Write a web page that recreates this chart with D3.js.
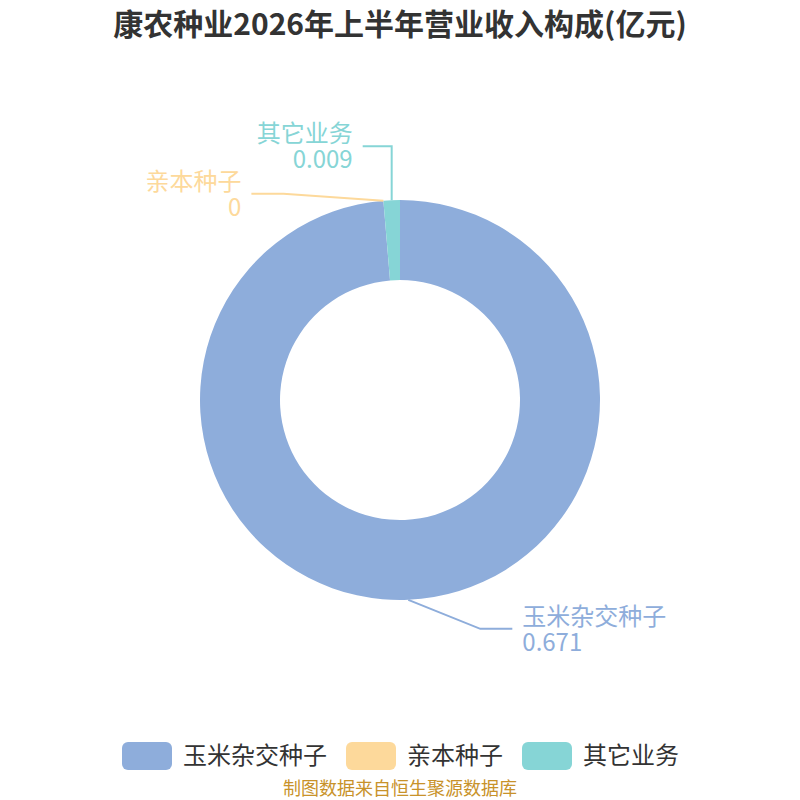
<!DOCTYPE html>
<html>
<head>
<meta charset="utf-8">
<script src="https://cdn.jsdelivr.net/npm/d3@7"></script>
<style>
  body { margin: 0; background: #fff; }
  text { font-family: "Noto Sans CJK SC", "Noto Sans", sans-serif; }
</style>
</head>
<body>
<div id="chart"></div>
<script>
// data
const categories = ["玉米杂交种子", "亲本种子", "其它业务"];
const values = [0.671, 0, 0.009];
const valueLabels = ["0.671", "0", "0.009"];
const colors = ["#8eaddb", "#fdd99b", "#86d5d6"];
const title = "康农种业2026年上半年营业收入构成(亿元)";
const source = "制图数据来自恒生聚源数据库";

const width = 800, height = 800;
const cx = 400, cy = 400, outerR = 200, innerR = 120;

const svg = d3.select("#chart").append("svg")
    .attr("width", width)
    .attr("height", height);

svg.append("text")
    .attr("x", width / 2)
    .attr("y", 35)
    .attr("text-anchor", "middle")
    .attr("font-size", 30)
    .attr("font-weight", "bold")
    .attr("fill", "#333")
    .text(title);

const pie = d3.pie().sort(null).value(d => d);
const arcs = pie(values);
const arc = d3.arc().innerRadius(innerR).outerRadius(outerR);

const g = svg.append("g").attr("transform", `translate(${cx},${cy})`);

g.selectAll("path.slice")
    .data(arcs)
    .join("path")
    .attr("class", "slice")
    .attr("d", arc)
    .attr("fill", (d, i) => colors[i]);

// label lines: start at outer edge of mid angle, then per-label layout
const edge = d => {
    const a = (d.startAngle + d.endAngle) / 2;
    return [outerR * Math.sin(a), -outerR * Math.cos(a)];
};

const layouts = [
    { side: "right", elbow: p => [p[0] + 72, p[1] + 29], end: e => [e[0] + 32, e[1]] },
    { side: "left", elbow: p => [p[0] - 100, p[1] - 7], end: e => [e[0] - 32, e[1]] },
    { side: "left", elbow: p => [p[0], p[1] - 54], end: e => [e[0] - 29, e[1]] }
];

arcs.forEach((d, i) => {
    const L = layouts[i];
    const p0 = edge(d);
    const p1 = L.elbow(p0);
    const p2 = L.end(p1);
    g.append("polyline")
        .attr("points", [p0, p1, p2].map(p => p.join(",")).join(" "))
        .attr("fill", "none")
        .attr("stroke", colors[i])
        .attr("stroke-width", 2);

    const tx = L.side === "right" ? p2[0] + 10 : p2[0] - 10;
    const anchor = L.side === "right" ? "start" : "end";
    const t = g.append("text")
        .attr("x", tx)
        .attr("text-anchor", anchor)
        .attr("font-size", 24)
        .attr("fill", colors[i]);
    t.append("tspan").attr("x", tx).attr("y", p2[1] - 4).text(categories[i]);
    t.append("tspan").attr("x", tx).attr("y", p2[1] + 22).text(valueLabels[i]);
});

// legend
const legend = svg.append("g");
const legendX = [122, 346, 522];
categories.forEach((c, i) => {
    legend.append("rect")
        .attr("x", legendX[i])
        .attr("y", 742)
        .attr("width", 50)
        .attr("height", 28)
        .attr("rx", 6)
        .attr("fill", colors[i]);
    legend.append("text")
        .attr("x", legendX[i] + 61)
        .attr("y", 764)
        .attr("font-size", 24)
        .attr("fill", "#333")
        .text(c);
});

svg.append("text")
    .attr("x", width / 2)
    .attr("y", 795)
    .attr("text-anchor", "middle")
    .attr("font-size", 18)
    .attr("fill", "#c8922a")
    .text(source);
</script>
</body>
</html>
